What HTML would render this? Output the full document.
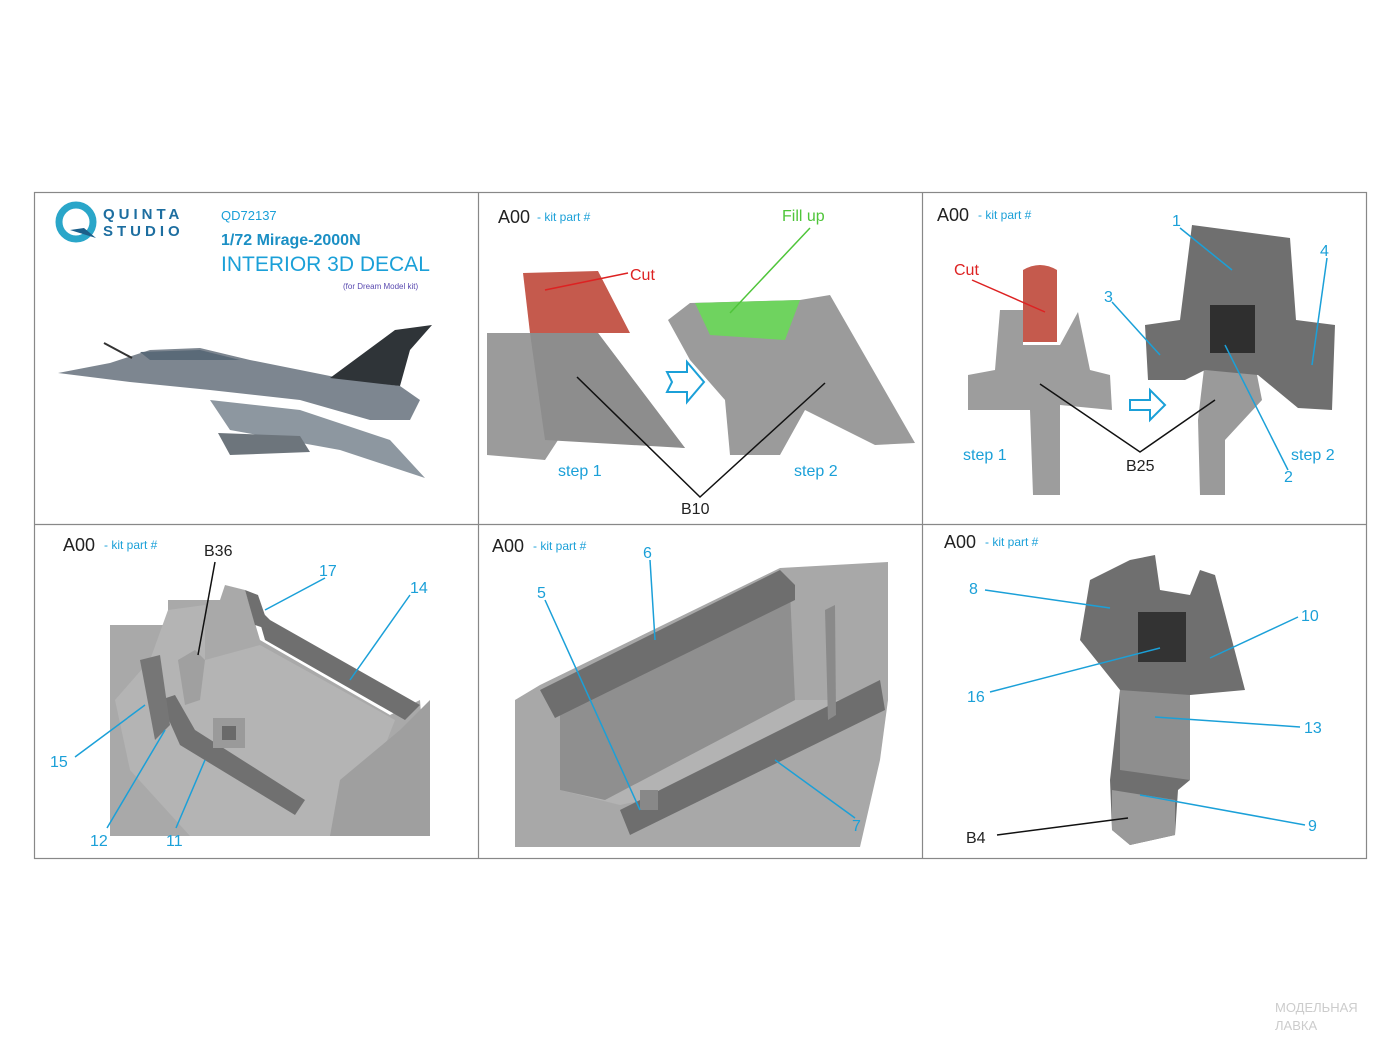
<!DOCTYPE html>
<html><head><meta charset="utf-8"><style>
html,body{margin:0;padding:0;background:#fff}
svg{display:block}
text{font-family:"Liberation Sans",Arial,sans-serif}
.b{fill:#1ba0d8}
.k{fill:#222}
</style></head><body>
<svg width="1400" height="1050" viewBox="0 0 1400 1050" xmlns="http://www.w3.org/2000/svg">
<rect width="1400" height="1050" fill="#fff"/>
<g stroke="#888" stroke-width="1.2" fill="none">
<rect x="34.5" y="192.5" width="1332" height="666"/>
<line x1="478.5" y1="192" x2="478.5" y2="858"/>
<line x1="922.5" y1="192" x2="922.5" y2="858"/>
<line x1="34" y1="524.5" x2="1366" y2="524.5"/>
</g>

<!-- Panel 1 -->
<circle cx="76" cy="222" r="17" fill="none" stroke="#2aa6c9" stroke-width="7"/>
<path d="M70 230 L96 238 L84 228 Z" fill="#1b5f8a"/>
<text x="103" y="219" font-size="15" font-weight="bold" fill="#1d6ea0" letter-spacing="4">QUINTA</text>
<text x="103" y="236" font-size="15" font-weight="bold" fill="#1d6ea0" letter-spacing="4">STUDIO</text>
<text x="221" y="220" font-size="13" class="b">QD72137</text>
<text x="221" y="245" font-size="16" font-weight="bold" fill="#1b8fc4">1/72 Mirage-2000N</text>
<text x="221" y="271" font-size="21" class="b">INTERIOR 3D DECAL</text>
<text x="343" y="289" font-size="8" fill="#5a4ab0">(for Dream Model kit)</text>
<path d="M58 373 L110 363 L150 350 L200 348 L250 360 L340 378 L400 386 L420 400 L410 420 L370 420 L300 400 L210 390 L130 382 Z" fill="#7d8690"/>
<path d="M330 378 L395 330 L432 325 L410 350 L400 386 Z" fill="#2f3438"/>
<path d="M210 400 L300 410 L390 440 L425 478 L340 450 L230 430 Z" fill="#8d97a0"/>
<path d="M218 433 L300 436 L310 452 L230 455 Z" fill="#6d757c"/>
<path d="M140 352 L200 350 L240 360 L150 360 Z" fill="#5a6a78"/>
<line x1="104" y1="343" x2="132" y2="358" stroke="#333" stroke-width="2"/>

<!-- Panel 2 -->
<text x="498" y="223" font-size="18" class="k">A00</text>
<text x="537" y="221" font-size="12" class="b">- kit part #</text>
<path d="M523 273 L598 271 L630 333 L530 333 Z" fill="#c55a4d"/>
<path d="M487 333 L598 333 L685 448 L560 437 L545 460 L487 455 Z" fill="#9b9b9b"/>
<path d="M530 333 L598 333 L685 448 L545 440 Z" fill="#8d8d8d"/>
<line x1="545" y1="290" x2="628" y2="273" stroke="#d22" stroke-width="1.5"/>
<text x="630" y="280" font-size="16" fill="#d22">Cut</text>
<path d="M690 352 L685 362 L705 362 L705 372 L722 352 L705 332 L705 342 L685 342 Z" fill="#fff" stroke="#1ba0d8" stroke-width="2" transform="translate(-18,30)"/>
<path d="M668 320 L690 303 L800 300 L830 295 L915 443 L875 445 L805 410 L780 455 L730 455 L725 400 L690 360 Z" fill="#9b9b9b"/>
<path d="M695 303 L800 300 L785 340 L710 335 Z" fill="#6fd35f"/>
<line x1="730" y1="313" x2="810" y2="228" stroke="#4fc53a" stroke-width="1.5"/>
<text x="782" y="221" font-size="16" fill="#4fc53a">Fill up</text>
<text x="558" y="476" font-size="16" class="b">step 1</text>
<text x="794" y="476" font-size="16" class="b">step 2</text>
<polyline points="577,377 700,497 825,383" fill="none" stroke="#111" stroke-width="1.5"/>
<text x="681" y="514" font-size="16" class="k">B10</text>

<!-- Panel 3 -->
<text x="937" y="221" font-size="18" class="k">A00</text>
<text x="978" y="219" font-size="12" class="b">- kit part #</text>
<path d="M1023 270 Q1040 260 1057 270 L1057 342 L1023 342 Z" fill="#c55a4d"/>
<path d="M1000 310 L1023 310 L1023 345 L1060 345 L1078 312 L1090 370 L1110 375 L1112 410 L1060 405 L1060 495 L1033 495 L1030 410 L968 410 L968 375 L995 370 Z" fill="#9d9d9d"/>
<line x1="972" y1="280" x2="1045" y2="312" stroke="#d22" stroke-width="1.5"/>
<text x="954" y="275" font-size="16" fill="#d22">Cut</text>
<path d="M1130 400 L1150 400 L1150 390 L1165 405 L1150 420 L1150 410 L1130 410 Z" fill="#fff" stroke="#1ba0d8" stroke-width="2"/>
<path d="M1205 360 L1255 365 L1262 400 L1225 440 L1225 495 L1200 495 L1198 420 Z" fill="#9a9a9a"/>
<path d="M1192 225 L1290 238 L1296 320 L1335 325 L1332 410 L1298 408 L1258 375 L1205 370 L1185 380 L1148 380 L1145 325 L1180 320 Z" fill="#6f6f6f"/>
<rect x="1210" y="305" width="45" height="48" fill="#2f2f2f"/>
<text x="963" y="460" font-size="16" class="b">step 1</text>
<text x="1291" y="460" font-size="16" class="b">step 2</text>
<polyline points="1040,384 1140,452 1215,400" fill="none" stroke="#111" stroke-width="1.5"/>
<text x="1126" y="471" font-size="16" class="k">B25</text>
<g stroke="#1ba0d8" stroke-width="1.5">
<line x1="1180" y1="228" x2="1232" y2="270"/><line x1="1112" y1="302" x2="1160" y2="355"/>
<line x1="1327" y1="258" x2="1312" y2="365"/><line x1="1288" y1="470" x2="1225" y2="345"/>
</g>
<text x="1172" y="226" font-size="16" class="b">1</text>
<text x="1104" y="302" font-size="16" class="b">3</text>
<text x="1320" y="256" font-size="16" class="b">4</text>
<text x="1284" y="482" font-size="16" class="b">2</text>

<!-- Panel 4 -->
<text x="63" y="551" font-size="18" class="k">A00</text>
<text x="104" y="549" font-size="12" class="b">- kit part #</text>
<path d="M110 625 L168 625 L168 600 L220 600 L225 585 L245 590 L260 640 L390 715 L420 700 L430 836 L110 836 Z" fill="#a9a9a9"/>
<path d="M168 610 L205 605 L205 660 L260 645 L395 720 L350 836 L190 836 L130 770 L115 700 L150 660 Z" fill="#b4b4b4"/>
<path d="M255 605 L265 640 L405 720 L420 705 L270 620 Z" fill="#6f6f6f"/>
<path d="M245 590 L258 595 L270 630 L255 625 Z" fill="#6f6f6f"/>
<path d="M160 700 L175 695 L195 730 L305 800 L295 815 L180 745 Z" fill="#707070"/>
<path d="M140 660 L160 655 L170 725 L155 740 Z" fill="#767676"/>
<path d="M178 660 L195 650 L205 660 L200 700 L185 705 Z" fill="#a0a0a0"/>
<rect x="213" y="718" width="32" height="30" fill="#9a9a9a"/>
<rect x="222" y="726" width="14" height="14" fill="#6a6a6a"/>
<path d="M340 780 L400 730 L430 700 L430 836 L330 836 Z" fill="#9f9f9f"/>
<text x="204" y="556" font-size="16" class="k">B36</text>
<line x1="215" y1="562" x2="198" y2="655" stroke="#111" stroke-width="1.5"/>
<g stroke="#1ba0d8" stroke-width="1.5">
<line x1="325" y1="578" x2="265" y2="610"/><line x1="410" y1="595" x2="350" y2="680"/>
<line x1="75" y1="757" x2="145" y2="705"/><line x1="107" y1="828" x2="165" y2="730"/>
<line x1="176" y1="828" x2="205" y2="760"/>
</g>
<text x="319" y="576" font-size="16" class="b">17</text>
<text x="410" y="593" font-size="16" class="b">14</text>
<text x="50" y="767" font-size="16" class="b">15</text>
<text x="90" y="846" font-size="16" class="b">12</text>
<text x="166" y="846" font-size="16" class="b">11</text>

<!-- Panel 5 -->
<text x="492" y="552" font-size="18" class="k">A00</text>
<text x="533" y="550" font-size="12" class="b">- kit part #</text>
<path d="M515 700 L540 685 L780 568 L888 562 L888 700 L880 760 L860 847 L515 847 Z" fill="#a8a8a8"/>
<path d="M560 705 L790 590 L795 700 L855 700 L690 790 L620 805 L560 790 Z" fill="#b3b3b3"/>
<path d="M560 705 L790 590 L795 700 L605 800 L560 790 Z" fill="#8f8f8f"/>
<path d="M540 690 L780 570 L795 585 L795 600 L555 718 Z" fill="#6e6e6e"/>
<path d="M620 810 L880 680 L885 710 L630 835 Z" fill="#6e6e6e"/>
<path d="M825 610 L835 605 L836 715 L828 720 Z" fill="#8a8a8a"/>
<rect x="640" y="790" width="18" height="20" fill="#888"/>
<g stroke="#1ba0d8" stroke-width="1.5">
<line x1="545" y1="600" x2="640" y2="810"/><line x1="650" y1="560" x2="655" y2="640"/>
<line x1="855" y1="818" x2="775" y2="760"/>
</g>
<text x="537" y="598" font-size="16" class="b">5</text>
<text x="643" y="558" font-size="16" class="b">6</text>
<text x="852" y="831" font-size="16" class="b">7</text>

<!-- Panel 6 -->
<text x="944" y="548" font-size="18" class="k">A00</text>
<text x="985" y="546" font-size="12" class="b">- kit part #</text>
<path d="M1090 580 L1130 560 L1155 555 L1160 590 L1190 595 L1200 570 L1215 575 L1245 690 L1190 695 L1185 720 L1190 780 L1178 790 L1175 835 L1130 845 L1112 830 L1110 780 L1120 690 L1080 640 Z" fill="#6f6f6f"/>
<path d="M1120 690 L1190 695 L1190 780 L1120 770 Z" fill="#8e8e8e"/>
<path d="M1112 790 L1175 800 L1175 835 L1130 845 L1112 830 Z" fill="#9a9a9a"/>
<rect x="1138" y="612" width="48" height="50" fill="#333"/>
<g stroke="#1ba0d8" stroke-width="1.5">
<line x1="985" y1="590" x2="1110" y2="608"/><line x1="1298" y1="617" x2="1210" y2="658"/>
<line x1="990" y1="692" x2="1160" y2="648"/><line x1="1300" y1="727" x2="1155" y2="717"/>
<line x1="1305" y1="825" x2="1140" y2="795"/>
</g>
<line x1="997" y1="835" x2="1128" y2="818" stroke="#111" stroke-width="1.5"/>
<text x="969" y="594" font-size="16" class="b">8</text>
<text x="1301" y="621" font-size="16" class="b">10</text>
<text x="967" y="702" font-size="16" class="b">16</text>
<text x="1304" y="733" font-size="16" class="b">13</text>
<text x="1308" y="831" font-size="16" class="b">9</text>
<text x="966" y="843" font-size="16" class="k">B4</text>

<text x="1275" y="1012" font-size="13" fill="#ccc">МОДЕЛЬНАЯ</text>
<text x="1275" y="1030" font-size="13" fill="#ccc">ЛАВКА</text>
</svg>
</body></html>
